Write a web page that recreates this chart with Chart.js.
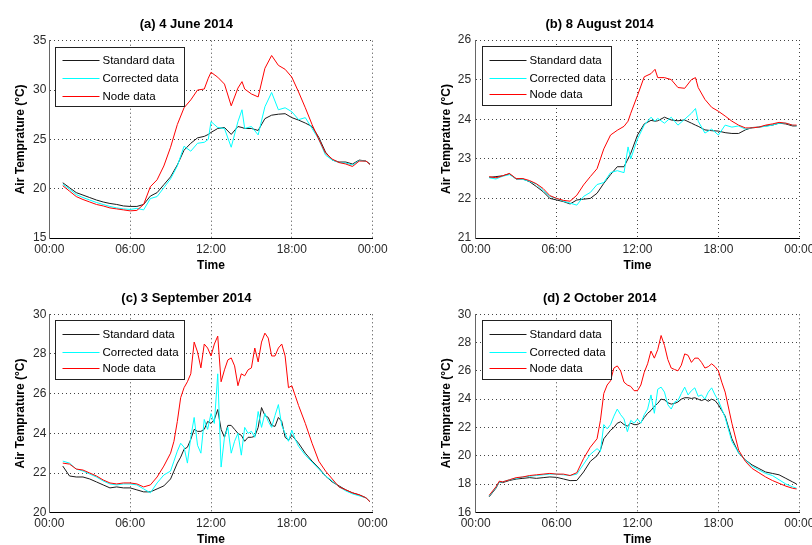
<!DOCTYPE html>
<html>
<head>
<meta charset="utf-8">
<title>Air temperature - four days</title>
<script src="https://cdn.jsdelivr.net/npm/chart.js@4.4.1/dist/chart.umd.min.js"></script>
<style>
  html, body { margin: 0; padding: 0; background: #fff; overflow: hidden; }
  body { width: 812px; height: 545px; position: relative; }
  canvas { position: absolute; }
</style>
</head>
<body>
<canvas id="chartA" width="422" height="290" style="left:0;top:0"></canvas>
<canvas id="chartB" width="475" height="290" style="left:400px;top:0"></canvas>
<canvas id="chartC" width="422" height="290" style="left:0;top:274px"></canvas>
<canvas id="chartD" width="475" height="290" style="left:400px;top:274px"></canvas>
<script>
// x tick labels (hours 0, 6, 12, 18, 24)
const timeLabels = ['00:00', '06:00', '12:00', '18:00', '00:00'];
const seriesLabels = ['Standard data', 'Corrected data', 'Node data'];

// (a) 4 June 2014
const hoursA = [1,1.5,2,2.5,3,3.5,4,4.5,5,5.5,6,6.5,7,7.5,8,8.5,9,9.5,10,10.5,11,11.5,11.8,12,12.5,13,13.5,14,14.3,14.5,15,15.5,16,16.5,17,17.5,18,18.5,19,19.5,20,20.5,21,21.5,22,22.5,23,23.5,23.8];
const standardA = [20.6,20.1,19.6,19.35,19.1,18.85,18.65,18.5,18.4,18.25,18.2,18.2,18.4,19.25,19.6,20.4,21.2,22.4,23.9,24.6,25.15,25.3,25.5,25.7,26.1,26.2,25.5,26.3,26.2,26.1,26.1,25.9,27.1,27.45,27.55,27.6,27.2,26.95,26.65,26.3,25.2,23.7,22.9,22.7,22.7,22.5,22.9,22.8,22.5];
const correctedA = [20.45,19.95,19.4,19.1,18.85,18.6,18.4,18.2,18.05,17.95,17.9,18.0,17.85,19.0,19.2,20.1,21.0,22.3,24.3,23.8,24.6,24.7,25.0,26.8,26.2,26.1,24.2,26.8,28.0,26.1,26.3,25.45,28.3,29.75,28.0,28.2,27.8,27.0,27.2,26.1,25.0,23.4,22.9,22.65,22.6,22.4,22.85,22.8,22.45];
const nodeA = [20.3,19.75,19.2,18.9,18.65,18.4,18.25,18.05,17.95,17.85,17.75,17.8,18.4,20.2,20.9,22.3,24.2,26.5,28.2,29.0,30.0,30.1,31.2,31.8,31.3,30.6,28.4,30.2,30.85,30.1,29.6,29.3,32.2,33.5,32.5,32.1,31.3,29.8,28.2,26.5,25.0,23.6,23.0,22.65,22.5,22.25,22.8,22.8,22.45];

// (b) 8 August 2014
const hoursB = [1,1.5,2,2.5,3,3.5,4,4.5,5,5.5,6,6.5,7,7.5,8,8.5,9,9.5,10,10.5,11,11.3,11.5,12,12.5,13,13.3,13.5,14,14.5,15,15.5,16,16.3,16.5,17,17.5,18,18.5,19,19.5,20,20.5,21,21.5,22,22.5,23,23.5,23.8];
const standardB = [22.53,22.55,22.57,22.62,22.49,22.49,22.42,22.3,22.17,22.0,21.96,21.92,21.86,21.96,21.98,22.0,22.13,22.38,22.6,22.8,22.8,23.0,23.14,23.6,23.88,23.97,23.95,23.96,24.05,23.98,23.96,23.98,23.9,23.85,23.82,23.73,23.71,23.7,23.66,23.64,23.64,23.73,23.79,23.8,23.83,23.85,23.9,23.88,23.83,23.83];
const correctedB = [22.52,22.49,22.56,22.6,22.5,22.48,22.43,22.36,22.2,22.05,22.0,21.93,21.88,21.83,22.05,22.15,22.35,22.4,22.65,22.7,22.65,23.3,23.0,23.5,23.85,24.05,23.95,24.02,23.9,24.05,23.85,24.0,24.15,24.27,23.95,23.65,23.75,23.6,23.85,23.8,23.83,23.75,23.78,23.8,23.82,23.85,23.9,23.9,23.85,23.83];
const nodeB = [22.55,22.52,22.57,22.63,22.5,22.5,22.45,22.37,22.25,22.07,22.0,21.95,21.93,22.08,22.34,22.55,22.75,23.25,23.6,23.72,23.82,23.95,24.15,24.6,25.07,25.15,25.26,25.05,25.05,25.0,24.8,24.78,25.0,25.05,24.8,24.5,24.3,24.2,24.08,23.95,23.85,23.78,23.78,23.8,23.85,23.88,23.92,23.9,23.85,23.85];

// (c) 3 September 2014
const hoursC = [1,1.5,2,2.5,3,3.5,4,4.5,5,5.5,6,6.5,7,7.5,8,8.5,9,9.25,9.5,9.75,10,10.25,10.5,10.75,11,11.25,11.5,11.75,12,12.25,12.5,12.75,13,13.25,13.5,13.75,14,14.25,14.5,14.75,15,15.25,15.5,15.75,16,16.25,16.5,16.75,17,17.25,17.5,17.75,18,18.25,18.5,19,19.5,20,20.5,21,21.5,22,22.5,23,23.5,23.8];
const standardC = [22.35,21.85,21.8,21.8,21.7,21.55,21.4,21.25,21.3,21.25,21.25,21.15,21.05,21.05,21.2,21.35,21.7,22.1,22.5,22.8,23.2,23.3,23.7,24.2,24.1,24.1,24.2,24.6,24.5,24.7,25.2,24.2,23.8,24.4,24.4,24.2,24.0,23.9,23.6,23.8,23.8,23.85,24.3,25.3,24.9,24.8,24.4,24.35,24.8,24.6,23.8,23.65,23.9,23.7,23.5,23.0,22.6,22.25,21.85,21.55,21.35,21.15,21.0,20.9,20.75,20.55];
const correctedC = [22.6,22.5,22.2,22.1,21.95,21.8,21.6,21.45,21.4,21.45,21.45,21.4,21.2,21.0,21.5,21.9,22.1,22.6,23.1,23.5,23.3,22.5,23.8,24.8,23.4,23.0,24.7,24.2,25.0,24.5,27.0,22.3,23.8,24.3,23.0,23.6,24.0,22.9,24.3,24.0,24.1,23.8,25.1,24.3,25.0,24.6,24.3,24.9,25.45,24.4,24.0,23.6,24.15,23.7,23.35,22.9,22.55,22.2,21.85,21.6,21.3,21.1,20.95,20.85,20.75,20.55];
const nodeC = [22.5,22.45,22.2,22.15,22.0,21.85,21.65,21.5,21.45,21.5,21.5,21.45,21.3,21.4,21.8,22.35,23.0,23.6,24.6,25.8,26.3,26.6,27.0,28.6,28.1,27.3,28.5,28.3,27.9,28.5,28.9,26.6,27.2,27.7,27.8,27.4,26.4,27.0,26.9,27.2,27.3,28.3,27.6,28.6,29.05,28.8,27.9,27.9,28.3,28.5,27.9,26.3,26.4,25.9,25.4,24.5,23.5,22.6,22.1,21.7,21.3,21.15,21.0,20.9,20.75,20.55];

// (d) 2 October 2014
const hoursD = [1,1.5,1.75,2,2.5,3,3.5,4,4.5,5,5.5,6,6.5,7,7.5,8,8.5,9,9.25,9.5,9.75,10,10.25,10.5,10.75,11,11.25,11.5,11.75,12,12.25,12.5,12.75,13,13.25,13.5,13.75,14,14.25,14.5,14.75,15,15.25,15.5,15.75,16,16.25,16.5,16.75,17,17.25,17.5,17.75,18,18.25,18.5,19,19.5,20,20.5,21,21.5,22,22.5,23,23.5,23.8];
const standardD = [17.1,17.7,18.15,18.1,18.25,18.35,18.4,18.45,18.4,18.45,18.5,18.47,18.36,18.24,18.25,18.85,19.6,20.0,20.4,21.2,21.5,21.8,22.0,22.3,22.4,22.2,22.1,22.3,22.2,22.2,22.35,22.7,23.0,23.2,23.5,23.7,24.0,23.95,23.75,23.65,23.7,23.8,24.0,24.1,24.1,24.05,24.1,24.0,23.9,24.0,23.85,24.0,23.9,23.6,23.2,22.8,21.2,20.2,19.7,19.35,19.1,18.85,18.75,18.65,18.4,18.15,18.0];
const correctedD = [17.15,17.75,18.15,18.15,18.3,18.4,18.5,18.55,18.6,18.65,18.7,18.7,18.65,18.6,18.7,19.4,20.1,20.5,20.3,22.2,21.9,22.2,22.8,23.3,22.9,22.6,21.7,22.5,22.3,22.6,22.3,22.9,23.3,24.3,23.0,24.7,24.85,24.5,23.6,23.3,23.8,23.9,24.4,24.85,24.3,24.6,24.8,24.2,24.3,24.0,24.5,24.8,24.3,23.9,23.3,22.7,21.0,20.2,19.7,19.25,19.0,18.75,18.6,18.3,18.0,17.8,17.7];
const nodeD = [17.2,17.8,18.2,18.15,18.3,18.45,18.5,18.6,18.65,18.7,18.75,18.7,18.7,18.6,18.8,19.8,20.6,21.2,22.5,24.4,25.0,25.3,26.2,26.35,26.0,25.2,25.0,24.9,24.6,24.6,25.0,25.9,26.5,27.4,26.9,27.5,28.5,27.8,26.8,26.2,26.1,26.0,26.4,27.2,27.1,26.6,26.9,26.9,26.6,26.2,26.3,26.5,26.3,26.0,25.2,24.5,22.3,20.4,19.6,19.1,18.8,18.5,18.25,18.05,17.85,17.7,17.65];

const FONT = '"Liberation Sans", Arial, Helvetica, sans-serif';
const lineColors = ['#1a1a1a', '#00ffff', '#ff0000'];
// red drawn on top, then cyan, then black
const lineOrder = [2, 1, 0];

// MATLAB-style legend: white box with a thin frame in the top-left corner
const boxLegend = {
  id: 'boxLegend',
  afterDatasetsDraw(chart) {
    const { ctx, chartArea } = chart;
    const x = Math.round(chartArea.left + 6) + 0.5;
    const y = Math.round(chartArea.top + 6) + 0.5;
    ctx.save();
    ctx.setLineDash([]);
    ctx.lineWidth = 1;
    ctx.fillStyle = '#fff';
    ctx.fillRect(x, y, 129, 59);
    ctx.strokeStyle = '#222';
    ctx.strokeRect(x, y, 129, 59);
    ctx.font = '11.5px ' + FONT;
    ctx.textBaseline = 'middle';
    ctx.textAlign = 'left';
    seriesLabels.forEach((label, i) => {
      // keep each sample line on an even pixel row
      const cy = 2 * Math.round((y + 13 + i * 17.6) / 2) + 0.5;
      ctx.strokeStyle = lineColors[i];
      ctx.beginPath();
      ctx.moveTo(x + 7, cy);
      ctx.lineTo(x + 44, cy);
      ctx.stroke();
      ctx.fillStyle = '#000';
      ctx.fillText(label, x + 47, cy);
    });
    ctx.restore();
  }
};

const panels = [
  { id: 'chartA', title: '(a) 4 June 2014', hours: hoursA, series: [standardA, correctedA, nodeA],
    yMin: 15, yMax: 35, yStep: 5,
    box: { yWidth: 49.3, right: 49.3, xHeight: 52, titleTop: 16.7, titleBottom: 8.4, yTitlePad: 13.3, xTitlePad: 17.1, yTickPad: 3 } },
  { id: 'chartB', title: '(b) 8 August 2014', hours: hoursB, series: [standardB, correctedB, nodeB],
    yMin: 21, yMax: 26, yStep: 1,
    box: { yWidth: 75.7, right: 75.7, xHeight: 52, titleTop: 16.7, titleBottom: 7.7, yTitlePad: 39.1, xTitlePad: 17.1, yTickPad: 4.5 } },
  { id: 'chartC', title: '(c) 3 September 2014', hours: hoursC, series: [standardC, correctedC, nodeC],
    yMin: 20, yMax: 30, yStep: 2,
    box: { yWidth: 49.3, right: 49.3, xHeight: 51.3, titleTop: 16.5, titleBottom: 8.2, yTitlePad: 13.6, xTitlePad: 17.3, yTickPad: 3 } },
  { id: 'chartD', title: '(d) 2 October 2014', hours: hoursD, series: [standardD, correctedD, nodeD],
    yMin: 16, yMax: 30, yStep: 2,
    box: { yWidth: 75.7, right: 75.7, xHeight: 51.7, titleTop: 16.5, titleBottom: 8.2, yTitlePad: 39.1, xTitlePad: 17.3, yTickPad: 4.5 } }
];

panels.forEach(p => {
  const b = p.box;
  new Chart(document.getElementById(p.id), {
    type: 'line',
    data: {
      datasets: p.series.map((values, i) => ({
        label: seriesLabels[i],
        data: p.hours.map((h, k) => ({ x: h, y: values[k] })),
        borderColor: lineColors[i],
        borderWidth: 1,
        pointRadius: 0,
        tension: 0,
        order: lineOrder[i]
      }))
    },
    options: {
      responsive: false,
      animation: false,
      events: [],
      layout: { padding: { left: 0, top: 0, right: b.right, bottom: 0 } },
      plugins: {
        legend: { display: false },
        tooltip: { enabled: false },
        title: {
          display: true,
          text: p.title,
          color: '#000',
          font: { family: FONT, size: 13, weight: 'bold' },
          padding: { top: b.titleTop, bottom: b.titleBottom }
        }
      },
      scales: {
        x: {
          type: 'linear',
          min: 0,
          max: 24,
          grid: { color: '#444', lineWidth: 1, drawTicks: false },
          border: { color: '#000', width: 1, dash: [1, 3] },
          ticks: {
            stepSize: 6,
            autoSkip: false,
            maxRotation: 0,
            padding: 4,
            color: '#2a2a2a',
            font: { family: FONT, size: 12 },
            callback: (value, index) => timeLabels[index]
          },
          title: {
            display: true,
            text: 'Time',
            color: '#000',
            font: { family: FONT, size: 12, weight: 'bold' },
            padding: { top: 0, bottom: b.xTitlePad }
          },
          afterFit(scale) {
            scale.height = b.xHeight;
            scale.paddingLeft = 0;
            scale.paddingRight = 0;
          }
        },
        y: {
          min: p.yMin,
          max: p.yMax,
          grid: { color: '#444', lineWidth: 1, drawTicks: false },
          border: { color: '#666', width: 1, dash: [1, 3] },
          ticks: {
            stepSize: p.yStep,
            padding: b.yTickPad,
            color: '#2a2a2a',
            font: { family: FONT, size: 12 }
          },
          title: {
            display: true,
            text: 'Air Temprature (°C)',
            color: '#000',
            font: { family: FONT, size: 12, weight: 'bold' },
            padding: { top: b.yTitlePad, bottom: 0 }
          },
          afterFit(scale) {
            scale.width = b.yWidth;
            scale.paddingTop = 0;
            scale.paddingBottom = 0;
          }
        }
      }
    },
    plugins: [boxLegend]
  });
});
</script>
</body>
</html>
